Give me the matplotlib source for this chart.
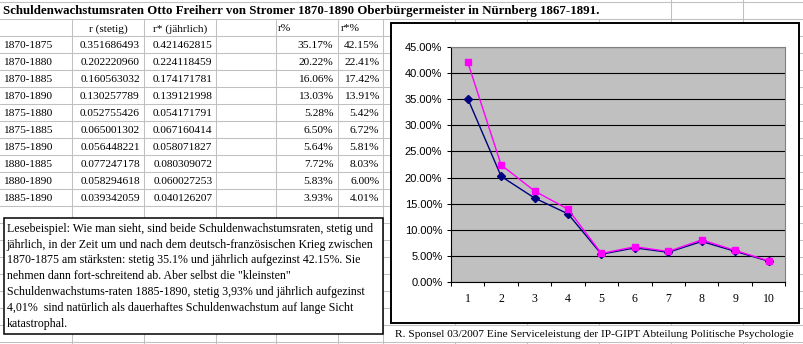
import numpy as np
import matplotlib.pyplot as plt
from matplotlib.patches import Rectangle
from matplotlib.ticker import PercentFormatter

# table / chart data
periods = ['1870-1875', '1870-1880', '1870-1885', '1870-1890', '1875-1880',
           '1875-1885', '1875-1890', '1880-1885', '1880-1890', '1885-1890']
r_stetig = [0.351686493, 0.202220960, 0.160563032, 0.130257789, 0.052755426,
            0.065001302, 0.056448221, 0.077247178, 0.058294618, 0.039342059]
r_jaehrlich = [0.421462815, 0.224118459, 0.174171781, 0.139121998, 0.054171791,
               0.067160414, 0.058071827, 0.080309072, 0.060027253, 0.040126207]
categories = list(range(1, 11))

title = ('Schuldenwachstumsraten Otto Freiherr von Stromer 1870-1890 '
         'Oberbürgermeister in Nürnberg 1867-1891.')
headers = ['r (stetig)', 'r* (jährlich)', 'r%', 'r*%']
note_lines = [
    'Lesebeispiel: Wie man sieht, sind beide Schuldenwachstumsraten, stetig und',
    'jährlich, in der Zeit um und nach dem deutsch-französischen Krieg zwischen',
    '1870-1875 am stärksten: stetig 35.1% und jährlich aufgezinst 42.15%. Sie',
    'nehmen dann fort-schreitend ab. Aber selbst die "kleinsten"',
    'Schuldenwachstums-raten 1885-1890, stetig 3,93% und jährlich aufgezinst',
    '4,01%  sind natürlich als dauerhaftes Schuldenwachstum auf lange Sicht',
    'katastrophal.',
]
footer = ('R. Sponsel 03/2007 Eine Serviceleistung der IP-GIPT '
          'Abteilung Politische Psychologie')

SERIF = 'Liberation Serif'
SANS = 'Liberation Sans'
FS = 8.2
W, H = 804, 344

fig = plt.figure(figsize=(W / 100, H / 100), dpi=100)
bg = fig.add_axes([0, 0, 1, 1])
bg.set_xlim(0, W)
bg.set_ylim(H, 0)
bg.axis('off')

# spreadsheet grid
cols = [0, 72.3, 144.3, 216.5, 276.2, 338.3, 383.3, 455.3, 527.3, 599.3, 671.5, 743.3]
rows = [1.7 + 17.0 * k for k in range(21)]
gc = '#c0c0c0'
for y in rows:
    bg.plot([0, W], [y, y], color=gc, lw=0.75, zorder=1)
for x in cols[1:]:
    if x > 384:
        top = 0 if x >= 671 else rows[1]
        bg.plot([x, x], [top, rows[19]], color=gc, lw=0.75, zorder=1)
        bg.plot([x, x], [rows[20], H], color=gc, lw=0.75, zorder=1)
    else:
        bg.plot([x, x], [rows[1], H], color=gc, lw=0.75, zorder=1)

def base(k):
    return rows[k] + 12.6

# title
bg.text(2.7, base(0), title, family=SERIF, fontweight='bold', fontsize=9.3,
        va='baseline', ha='left', zorder=2)

# header row
bg.text((cols[1] + cols[2]) / 2, base(1), headers[0], family=SERIF, fontsize=FS,
        ha='center', va='baseline', zorder=2)
bg.text((cols[2] + cols[3]) / 2, base(1), headers[1], family=SERIF, fontsize=FS,
        ha='center', va='baseline', zorder=2)
bg.text(cols[4] + 2, base(1), headers[2], family=SERIF, fontsize=FS,
        ha='left', va='baseline', zorder=2)
bg.text(cols[5] + 2.4, base(1), headers[3], family=SERIF, fontsize=FS,
        ha='left', va='baseline', zorder=2)

# table body
for i, p in enumerate(periods):
    k = i + 2
    bg.text(3, base(k), p, family=SERIF, fontsize=FS, ha='left', va='baseline', zorder=2)
    bg.text(cols[2] - 4.5, base(k), '%.9f' % r_stetig[i], family=SERIF, fontsize=FS,
            ha='right', va='baseline', zorder=2)
    bg.text(cols[3] - 4, base(k), '%.9f' % r_jaehrlich[i], family=SERIF, fontsize=FS,
            ha='right', va='baseline', zorder=2)
    bg.text(cols[5] - 5, base(k), '%.2f%%' % (r_stetig[i] * 100), family=SERIF,
            fontsize=FS, ha='right', va='baseline', zorder=2)
    bg.text(cols[6] - 4, base(k), '%.2f%%' % (r_jaehrlich[i] * 100), family=SERIF,
            fontsize=FS, ha='right', va='baseline', zorder=2)

# note box
bg.add_patch(Rectangle((4.3, 217.7), 378.4, 116.6, fc='white', ec='black', lw=1.1, zorder=3))
for i, line in enumerate(note_lines):
    bg.text(6.7, 231.7 + 15.9 * i, line, family=SERIF, fontsize=8.55,
            ha='left', va='baseline', zorder=4)

# chart area box
bg.add_patch(Rectangle((390.7, 22.7), 408.3, 300.0, fc='white', ec='black', lw=1.4, zorder=3))

# footer
bg.text(395, rows[19] + 12.6, footer, family=SERIF, fontsize=FS,
        ha='left', va='baseline', zorder=2)

# plot area
pl, pr, pt, pb = 451, 785.3, 47.3, 281.7
ax = fig.add_axes([pl / W, (H - pb) / H, (pr - pl) / W, (pb - pt) / H])
ax.set_zorder(5)
ax.set_facecolor('#c0c0c0')
ax.plot(categories, r_stetig, color='#000080', lw=1, marker='D', ms=4.3,
        mfc='#000080', mec='#000080')
ax.plot(categories, r_jaehrlich, color='#ff00ff', lw=1, marker='s', ms=4.4,
        mfc='#ff00ff', mec='#ff00ff')
ax.set_xlim(0.5, 10.5)
ax.set_ylim(0, 0.45)
ax.set_yticks(np.arange(0, 0.451, 0.05))
ax.yaxis.set_major_formatter(PercentFormatter(1.0, decimals=2))
ax.yaxis.grid(True, color='black', lw=0.8)
ax.set_axisbelow(True)
ax.tick_params(axis='y', direction='out', length=3.2, width=0.75, pad=3.0,
               labelsize=8, color='black')
for lab in ax.get_yticklabels():
    lab.set_family(SANS)

ax.set_xticks(np.arange(0.5, 11, 1))
ax.set_xticklabels([])
ax.set_xticks(categories, minor=True)
ax.set_xticklabels([str(c) for c in categories], minor=True, family=SERIF, fontsize=8.5)
ax.tick_params(axis='x', which='major', direction='out', length=3, width=0.75)
ax.tick_params(axis='x', which='minor', length=0, pad=8.2)

for s in ['left', 'bottom']:
    ax.spines[s].set_color('black')
    ax.spines[s].set_linewidth(0.8)
for s in ['top', 'right']:
    ax.spines[s].set_color('#808080')
    ax.spines[s].set_linewidth(0.8)

fig.savefig('out.png', dpi=100)
